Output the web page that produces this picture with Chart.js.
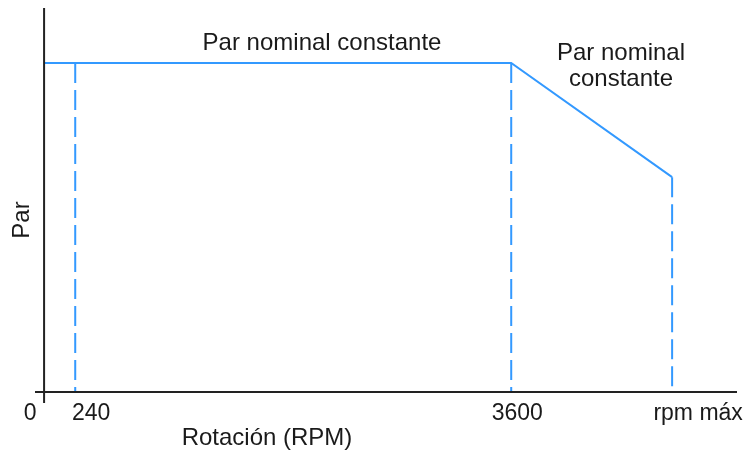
<!DOCTYPE html>
<html>
<head>
<meta charset="utf-8">
<script src="https://cdn.jsdelivr.net/npm/chart.js@4"></script>
<style>
  html, body { margin: 0; padding: 0; background: #fff; }
  #wrap { width: 749px; height: 453px; }
</style>
</head>
<body>
<div id="wrap"><canvas id="torqueChart"></canvas></div>
<script>
// data
const rpmPoints = [0, 3600, 4840];
const torquePoints = [1, 1, 0.653];
const markerRpm = [240, 3600, 4840];
const tickValues = [0, 240, 3600, 4840];
const tickLabels = ['0', '240', '3600', 'rpm máx'];

const BLUE = '#3399ff';
const INK = '#1a1a1a';
const FAMILY = '"Liberation Sans", Arial, sans-serif';

const curve = rpmPoints.map((x, i) => ({ x: x, y: torquePoints[i] }));

// top of each dashed line = torque at that rpm
function torqueAt(r) {
    for (let i = 0; i < rpmPoints.length - 1; i++) {
        if (r >= rpmPoints[i] && r <= rpmPoints[i + 1]) {
            const t = (r - rpmPoints[i]) / (rpmPoints[i + 1] - rpmPoints[i]);
            return torquePoints[i] + t * (torquePoints[i + 1] - torquePoints[i]);
        }
    }
    return 0;
}

const dashSets = markerRpm.map(r => ({
    data: [{ x: r, y: torqueAt(r) }, { x: r, y: 0 }],
    borderColor: BLUE,
    borderWidth: 2,
    borderDash: [20, 7],
    pointRadius: 0,
    fill: false
}));

// axes, tick labels and texts
const drawExtras = {
    id: 'drawExtras',
    afterDatasetsDraw(chart) {
        const ctx = chart.ctx;
        const xs = chart.scales.x;
        const ys = chart.scales.y;
        const x0 = xs.getPixelForValue(0);
        const y0 = ys.getPixelForValue(0);
        const area = chart.chartArea;

        ctx.save();
        ctx.strokeStyle = '#222';
        ctx.lineWidth = 2;
        ctx.beginPath();
        ctx.moveTo(x0, area.top);
        ctx.lineTo(x0, area.bottom);
        ctx.moveTo(area.left, y0);
        ctx.lineTo(area.right, y0);
        ctx.stroke();

        ctx.fillStyle = INK;
        ctx.textBaseline = 'middle';
        ctx.textAlign = 'center';
        ctx.font = '23px ' + FAMILY;
        const offsets = [-14, 16, 6, 26];
        tickValues.forEach((v, i) => {
            ctx.fillText(tickLabels[i], xs.getPixelForValue(v) + offsets[i], y0 + 22);
        });

        ctx.font = '24px ' + FAMILY;
        ctx.fillText('Rotación (RPM)', 267, 438);
        ctx.fillText('Par nominal constante', 322, 43);
        ctx.fillText('Par nominal', 621, 53);
        ctx.fillText('constante', 621, 79);

        ctx.translate(22, 220);
        ctx.rotate(-Math.PI / 2);
        ctx.fillText('Par', 0, 0);
        ctx.restore();
    }
};

new Chart(document.getElementById('torqueChart'), {
    type: 'line',
    data: {
        datasets: [{
            data: curve,
            borderColor: BLUE,
            borderWidth: 2,
            pointRadius: 0,
            tension: 0,
            fill: false
        }].concat(dashSets)
    },
    options: {
        responsive: true,
        maintainAspectRatio: false,
        animation: false,
        layout: { padding: { left: 35, right: 12, top: 8, bottom: 50 } },
        plugins: { legend: { display: false }, tooltip: { enabled: false } },
        scales: {
            x: { type: 'linear', min: -70, max: 5340, display: false },
            y: { min: -0.0334, max: 1.167, display: false }
        }
    },
    plugins: [drawExtras]
});
</script>
</body>
</html>
